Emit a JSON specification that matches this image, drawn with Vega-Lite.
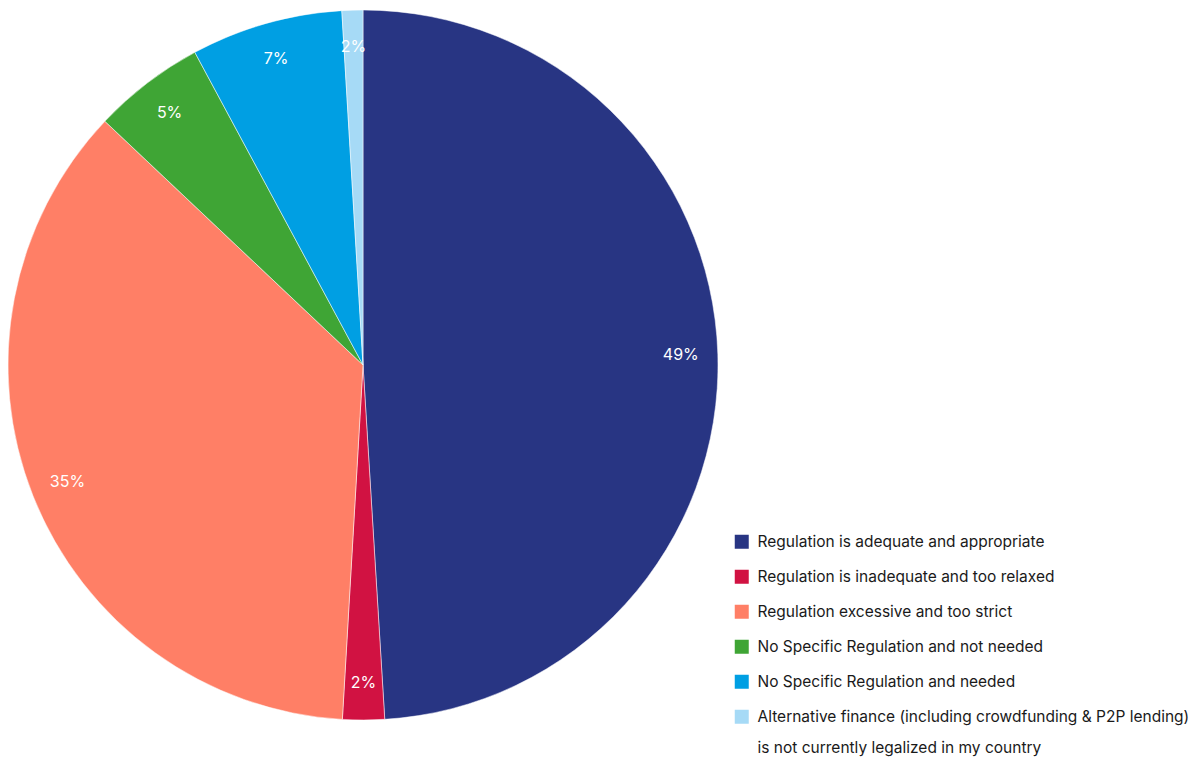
{
  "$schema": "https://vega.github.io/schema/vega-lite/v6.json",
  "width": 726,
  "height": 730,
  "autosize": "none",
  "padding": {"left": 0, "top": 0, "right": 463, "bottom": 28},
  "background": "white",
  "config": {"view": {"stroke": null}, "font": "Inter", "style": {"guide-label": {"lineHeight": 31}}},
  "data": {
    "values": [
      {"category": "Regulation is adequate and appropriate", "value": 49.0, "label": "49%", "order": 1},
      {"category": "Regulation is inadequate and too relaxed", "value": 1.9, "label": "2%", "order": 2},
      {"category": "Regulation excessive and too strict", "value": 36.1, "label": "35%", "order": 3},
      {"category": "No Specific Regulation and not needed", "value": 5.1, "label": "5%", "order": 4},
      {"category": "No Specific Regulation and needed", "value": 6.9, "label": "7%", "order": 5},
      {"category": "Alternative finance (including crowdfunding & P2P lending) is not currently legalized in my country", "value": 0.95, "label": "2%", "order": 6}
    ]
  },
  "encoding": {
    "theta": {"field": "value", "type": "quantitative", "stack": true},
    "order": {"field": "order", "type": "quantitative"},
    "color": {
      "field": "category",
      "type": "nominal",
      "sort": {"field": "order"},
      "scale": {
        "domain": [
          "Regulation is adequate and appropriate",
          "Regulation is inadequate and too relaxed",
          "Regulation excessive and too strict",
          "No Specific Regulation and not needed",
          "No Specific Regulation and needed",
          "Alternative finance (including crowdfunding & P2P lending) is not currently legalized in my country"
        ],
        "range": ["#283583", "#D11242", "#FF7F66", "#3FA535", "#009FE3", "#A6DAF6"]
      },
      "legend": {
        "title": null,
        "orient": "none",
        "legendX": 734,
        "legendY": 534,
        "symbolType": "square",
        "symbolSize": 196,
        "symbolStrokeWidth": 0,
        "labelFontSize": 15.5,
        "labelFont": "Inter",
        "labelColor": "#1a1a1a",
        "labelLimit": 500,
        "labelOffset": 8,
        "rowPadding": 18,
        "labelExpr": "indexof(datum.label, 'Alternative') == 0 ? ['Alternative finance (including crowdfunding & P2P lending)', 'is not currently legalized in my country'] : datum.label",
        "labelBaseline": "middle"
      }
    }
  },
  "layer": [
    {
      "mark": {"type": "arc", "outerRadius": 355, "stroke": "white", "strokeWidth": 0.5}
    },
    {
      "mark": {"type": "text", "radius": 318, "fontSize": 16, "color": "white", "font": "Inter"},
      "encoding": {
        "text": {"field": "label", "type": "nominal"},
        "color": {"value": "white"}
      }
    }
  ]
}
